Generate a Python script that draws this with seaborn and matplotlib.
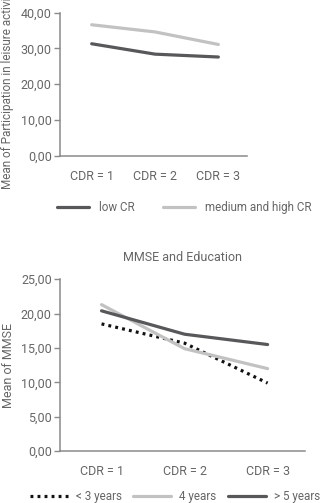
import matplotlib
matplotlib.use("Agg")
import matplotlib.pyplot as plt
import pandas as pd
import seaborn as sns
from matplotlib.ticker import FuncFormatter

# ── data ─────────────────────────────────────────────────────────────────────
cdr_labels = ["CDR = 1", "CDR = 2", "CDR = 3"]

# leisure activities by cognitive reserve
low_cr      = [31.3, 28.4, 27.6]
med_high_cr = [36.6, 34.6, 31.1]

# MMSE by years of education
mmse_lt3 = [18.5, 15.7, 9.9]
mmse_4   = [21.3, 14.9, 12.0]
mmse_gt5 = [20.4, 17.0, 15.5]

top_ticks    = [0, 10, 20, 30, 40]
bottom_ticks = [0, 5, 10, 15, 20, 25]

DARK  = "#58585a"
LIGHT = "#c2c2c2"
DOT   = "#111111"
TEXT  = "#666666"
AXIS  = "#8a8a8a"
FS    = 9
LFS   = 8.4

sns.set_theme(style="white")
plt.rcParams["font.family"] = ["Roboto", "DejaVu Sans"]
plt.rcParams["text.color"] = TEXT
plt.rcParams["axes.labelcolor"] = TEXT
plt.rcParams["xtick.color"] = TEXT
plt.rcParams["ytick.color"] = TEXT

top_df = pd.DataFrame({
    "cdr": cdr_labels * 2,
    "value": low_cr + med_high_cr,
    "group": ["low CR"] * 3 + ["medium and high CR"] * 3,
})
bot_df = pd.DataFrame({
    "cdr": cdr_labels * 3,
    "value": mmse_lt3 + mmse_4 + mmse_gt5,
    "group": ["< 3 years"] * 3 + ["4 years"] * 3 + ["> 5 years"] * 3,
})

fig = plt.figure(figsize=(3.21, 5.03), dpi=100)
ax1 = fig.add_axes([0.187, 0.690, 0.582, 0.285])
ax2 = fig.add_axes([0.187, 0.103, 0.763, 0.342])

comma = FuncFormatter(lambda v, _: f"{v:.2f}".replace(".", ","))

# ── top chart ────────────────────────────────────────────────────────────────
sns.lineplot(data=top_df, x="cdr", y="value", hue="group",
             palette={"low CR": DARK, "medium and high CR": LIGHT},
             linewidth=2.3, ax=ax1, legend=True)
ax1.set_ylim(0, 40)
ax1.set_yticks(top_ticks)
ax1.set_ylabel("Mean of Participation in leisure activities", fontsize=8.5)
ax1.yaxis.set_label_coords(-0.245, 0.5)

# ── bottom chart ─────────────────────────────────────────────────────────────
sns.lineplot(data=bot_df, x="cdr", y="value", hue="group", style="group",
             palette={"< 3 years": DOT, "4 years": LIGHT, "> 5 years": DARK},
             dashes={"< 3 years": (0.9, 1.3), "4 years": "", "> 5 years": ""},
             linewidth=2.3, ax=ax2, legend=True)
ax2.set_ylim(0, 25)
ax2.set_yticks(bottom_ticks)
ax2.set_ylabel("Mean of MMSE", fontsize=FS)
ax2.yaxis.set_label_coords(-0.185, 0.5)
ax2.set_title("MMSE and Education", fontsize=FS, pad=13, color=TEXT)

for ax in (ax1, ax2):
    ax.set_xlim(-0.5, 2.45)
    ax.set_xlabel("")
    ax.yaxis.set_major_formatter(comma)
    ax.tick_params(axis="x", length=0, pad=10, labelsize=FS)
    ax.tick_params(axis="y", left=True, length=4, width=1, color=AXIS,
                   pad=2, labelsize=FS)
    for side in ("top", "right"):
        ax.spines[side].set_visible(False)
    for side in ("left", "bottom"):
        ax.spines[side].set_color(AXIS)
        ax.spines[side].set_linewidth(1.1)

h1, l1 = ax1.get_legend_handles_labels()
ax1.get_legend().remove()
fig.legend(h1, l1, loc="center left", bbox_to_anchor=(0.145, 0.588), ncol=2,
           frameon=False, fontsize=LFS, handlelength=2.75, columnspacing=2.4,
           handletextpad=0.85)

h2, l2 = ax2.get_legend_handles_labels()
ax2.get_legend().remove()
fig.legend(h2, l2, loc="center left", bbox_to_anchor=(0.061, 0.012), ncol=3,
           frameon=False, fontsize=LFS, handlelength=3.25, columnspacing=0.95,
           handletextpad=0.7)

fig.savefig("out.png", dpi=100)
